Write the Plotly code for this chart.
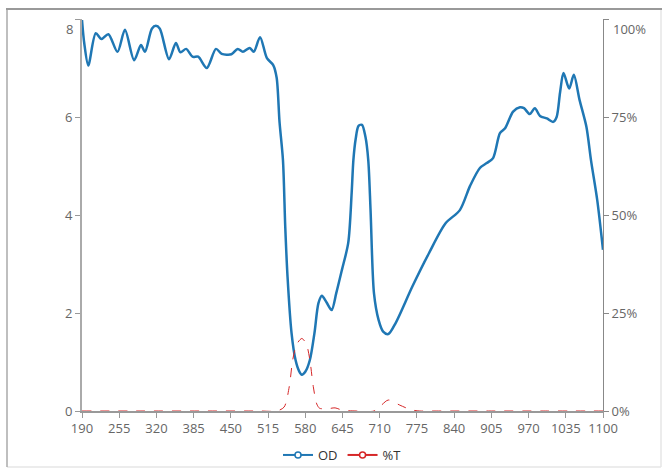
import plotly.graph_objects as go

# Optical density curve (wavelength nm, OD)
od_wavelength = [190, 194, 201, 214, 224, 236, 252, 265, 281, 293, 300, 312, 319, 326, 342, 354, 362,
                 372, 383, 393, 408, 424, 434, 451, 462, 471, 483, 490, 501, 513, 524, 530, 535,
                 541, 545, 549, 556, 563, 569, 574, 580, 588, 596, 603, 609, 617, 626, 634, 644,
                 655, 661, 664, 668, 673, 679, 685, 690, 694, 700, 708, 716, 725, 738, 767, 796,
                 825, 850, 868, 885, 897, 908, 920, 929, 943, 955, 962, 972, 981, 990, 1002, 1013,
                 1019, 1025, 1031, 1041, 1049, 1059, 1071, 1079, 1090, 1100]
od_values = [7.98, 7.5, 7.05, 7.71, 7.59, 7.69, 7.33, 7.78, 7.16, 7.47, 7.33, 7.8, 7.86, 7.8, 7.18, 7.51, 7.32,
             7.39, 7.23, 7.23, 7.0, 7.39, 7.29, 7.28, 7.39, 7.33, 7.41, 7.33, 7.63, 7.2, 7.06, 6.8, 5.9,
             5.12, 3.76, 2.74, 1.59, 1.04, 0.82, 0.74, 0.8, 1.04, 1.59, 2.2, 2.35, 2.22, 2.06, 2.4, 2.88,
             3.43, 4.45, 5.12, 5.55, 5.82, 5.84, 5.6, 5.12, 4.1, 2.4, 1.86, 1.62, 1.57, 1.8, 2.54, 3.22,
             3.83, 4.1, 4.6, 4.96, 5.06, 5.16, 5.67, 5.77, 6.11, 6.2, 6.18, 6.06, 6.18, 6.02, 5.97, 5.9,
             6.0, 6.5, 6.9, 6.58, 6.86, 6.35, 5.8, 5.12, 4.3, 3.29]

# Transmission curve (wavelength nm, %T)
t_wavelength = [190, 300, 400, 500, 530, 543, 552, 558, 565, 574, 582, 588, 594, 600, 605, 620, 632,
                645, 670, 700, 713, 725, 745, 765, 780, 800, 900, 1000, 1100]
t_values = [0, 0, 0, 0, 0, 1.0, 6.2, 13.0, 17.0, 18.5, 17.0, 13.0, 6.2, 1.8, 0.7, 0.6, 0.8,
            0.2, 0, 0, 1.5, 2.8, 1.5, 0.3, 0, 0, 0, 0, 0]

x_ticks = [190, 255, 320, 385, 450, 515, 580, 645, 710, 775, 840, 905, 970, 1035, 1100]
od_ticks = [0, 2, 4, 6, 8]
od_tick_labels = ["0", "2", "4", "6", "8"]
t_ticks = [0, 25, 50, 75, 100]
t_tick_labels = ["0%", "25%", "50%", "75%", "100%"]

BLUE = "#1f77b4"
RED = "#d62728"
AX = "#999999"
TXT = "#666666"

fig = go.Figure()
fig.add_trace(go.Scatter(x=od_wavelength, y=od_values, mode="lines", name="OD",
                         line=dict(color=BLUE, width=2.5, shape="spline", smoothing=0.8),
                         showlegend=False))
fig.add_trace(go.Scatter(x=t_wavelength, y=t_values, mode="lines", name="%T", yaxis="y2",
                         line=dict(color=RED, width=1, dash="dash", shape="spline", smoothing=0.8),
                         showlegend=False))
# legend entries
fig.add_trace(go.Scatter(x=[None], y=[None], mode="lines+markers", name="OD",
                         line=dict(color=BLUE, width=2),
                         marker=dict(symbol="circle", size=6, color="white", line=dict(color=BLUE, width=1.5))))
fig.add_trace(go.Scatter(x=[None], y=[None], mode="lines+markers", name="%T",
                         line=dict(color=RED, width=2),
                         marker=dict(symbol="circle", size=6, color="white", line=dict(color=RED, width=1.5))))

L, R, T, B = 82, 67, 19, 63
W, H = 670, 474
pw, ph = W - L - R, H - T - B

def px(x):
    return (x - L) / pw

def py(y):
    return (H - B - y) / ph

shapes = [
    dict(type="line", xref="paper", yref="paper", x0=px(7), x1=px(661), y0=py(467), y1=py(467),
         line=dict(color="#e6e6e6", width=1.5)),
    dict(type="line", xref="paper", yref="paper", x0=px(661), x1=px(661), y0=py(9), y1=py(467),
         line=dict(color="#e6e6e6", width=1.5)),
    dict(type="line", xref="paper", yref="paper", x0=px(7), x1=px(7), y0=py(9), y1=py(467),
         line=dict(color="#aaaaaa", width=1.5)),
    dict(type="line", xref="paper", yref="paper", x0=px(6), x1=px(662), y0=py(9), y1=py(9),
         line=dict(color="#999999", width=2)),
]

# top tick labels sit just below their tick (as in the reference)
annotations = [
    dict(text=od_tick_labels[-1], xref="paper", yref="paper", x=px(75), y=py(29),
         xanchor="right", yanchor="middle", showarrow=False, font=dict(size=13, color=TXT)),
    dict(text=t_tick_labels[-1], xref="paper", yref="paper", x=px(611), y=py(29),
         xanchor="left", yanchor="middle", showarrow=False, font=dict(size=13, color=TXT)),
]

fig.update_layout(
    width=W, height=H,
    margin=dict(l=L, r=R, t=T, b=B, autoexpand=False),
    paper_bgcolor="white", plot_bgcolor="white",
    font=dict(family="Open Sans, sans-serif", size=13, color=TXT),
    xaxis=dict(range=[190, 1100], tickvals=x_ticks, showgrid=False, zeroline=False, automargin=False,
               showline=True, linecolor=AX, linewidth=1.5, ticks="outside", ticklen=5,
               tickcolor=AX, tickfont=dict(size=13, color=TXT)),
    yaxis=dict(range=[0, 8], tickvals=od_ticks, ticktext=od_tick_labels[:-1] + [""],
               showgrid=False, zeroline=False, automargin=False,
               showline=True, linecolor="#aaaaaa", linewidth=2, ticks="outside", ticklen=5,
               tickcolor=AX, tickfont=dict(size=13, color=TXT)),
    yaxis2=dict(range=[0, 100], tickvals=t_ticks, ticktext=t_tick_labels[:-1] + [""],
                overlaying="y", side="right",
                showgrid=False, zeroline=False, showline=True, linecolor="#888888", linewidth=1,
                automargin=False, ticks="outside", ticklen=5, tickcolor="#888888",
                tickfont=dict(size=13, color=TXT)),
    legend=dict(orientation="h", x=0.5, xanchor="center", y=py(455), yanchor="middle",
                font=dict(size=13, color="#333333"), bgcolor="rgba(0,0,0,0)"),
    shapes=shapes,
    annotations=annotations,
    showlegend=True,
)

fig.write_html("out.html", config={"displayModeBar": False},
               post_script="document.body.style.margin='0';document.body.style.padding='0';")
